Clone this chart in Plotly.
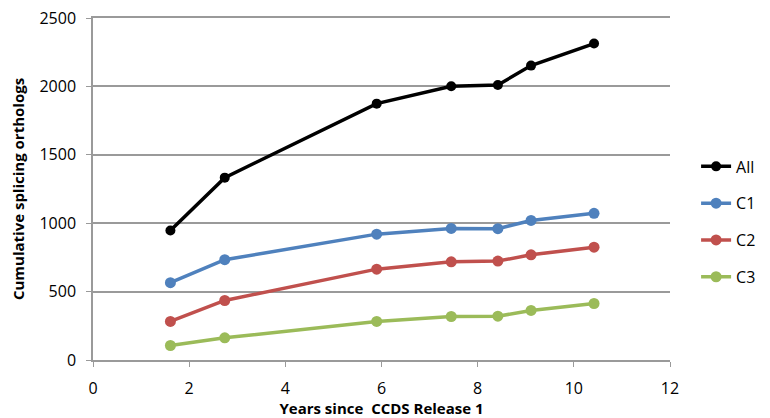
import plotly.graph_objects as go

years = [1.61, 2.74, 5.90, 7.45, 8.42, 9.11, 10.42]
all_vals = [947, 1333, 1874, 2001, 2010, 2152, 2313]
c1_vals = [565, 733, 920, 962, 960, 1020, 1072]
c2_vals = [282, 435, 664, 718, 723, 769, 825]
c3_vals = [106, 162, 282, 318, 320, 362, 413]

series = [
    ("All", all_vals, "#000000", 10),
    ("C1", c1_vals, "#4F81BD", 11),
    ("C2", c2_vals, "#C0504D", 11),
    ("C3", c3_vals, "#9BBB59", 11),
]

grey = "#9A9A9A"
fig = go.Figure()
for name, vals, color, msize in series:
    fig.add_trace(go.Scatter(
        x=years, y=vals, name=name, mode="lines+markers",
        line=dict(color=color, width=3.5),
        marker=dict(color=color, size=msize),
        legendgroup=name,
    ))

font_family = "Open Sans"
# page body has an 8px margin, so the figure is offset by (8, 8)
fig.update_layout(
    width=762, height=410,
    margin=dict(l=85, r=100, t=10, b=58),
    paper_bgcolor="white", plot_bgcolor="white",
    font=dict(family=font_family, size=16, color="black"),
    showlegend=True,
    legend=dict(xref="container", yref="container", x=0.903, y=0.655,
                xanchor="left", yanchor="top",
                font=dict(size=16), tracegroupgap=13, itemwidth=30,
                bgcolor="rgba(0,0,0,0)"),
    xaxis=dict(
        range=[0, 12], dtick=2, tick0=0,
        showgrid=False, zeroline=False, automargin=False,
        showline=True, mirror=True, linecolor=grey, linewidth=1.5,
        ticks="outside", ticklen=5, tickcolor=grey,
        ticklabelstandoff=8, ticklabeloverflow="allow",
        title=dict(text="<b>Years since  CCDS Release 1</b>", font=dict(size=15), standoff=8),
    ),
    yaxis=dict(
        range=[0, 2500], dtick=500, tick0=0,
        showgrid=True, gridcolor=grey, gridwidth=1.5,
        zeroline=False, automargin=False,
        showline=True, linecolor=grey, linewidth=1.5,
        ticks="outside", ticklen=5, tickcolor=grey,
        ticklabelstandoff=7, ticklabeloverflow="allow",
        title=dict(text="<b>Cumulative splicing orthologs</b>", font=dict(size=15), standoff=12),
    ),
)

fig.write_html("out.html")
